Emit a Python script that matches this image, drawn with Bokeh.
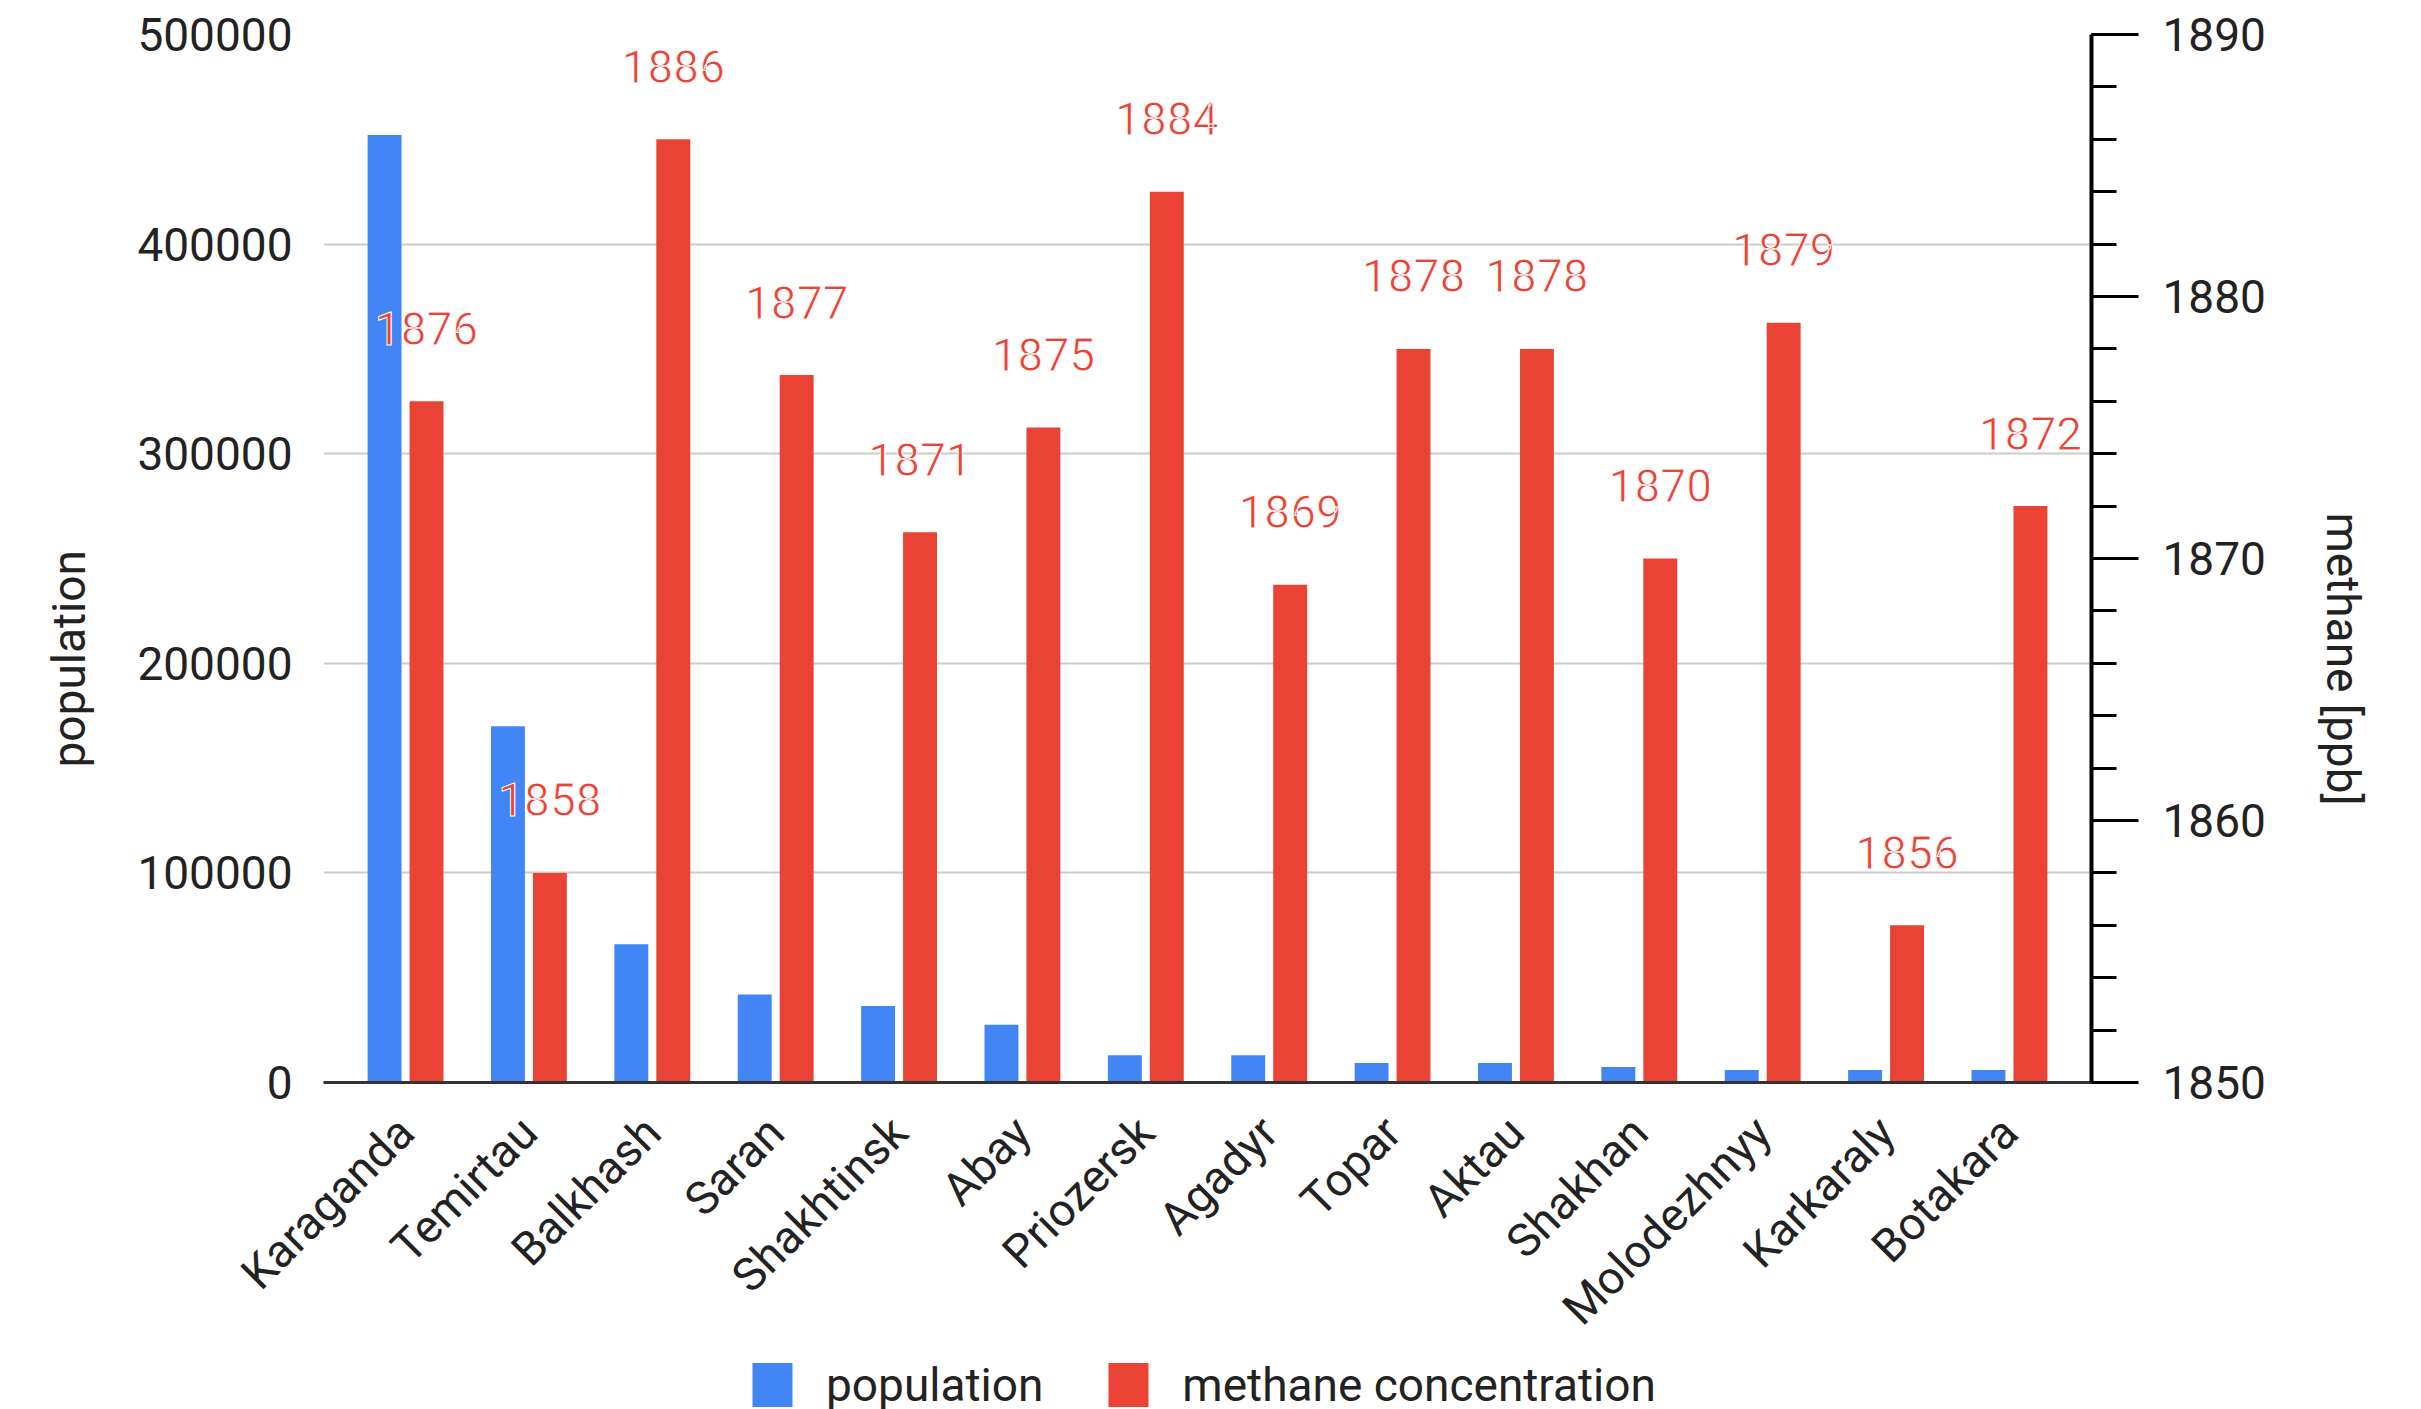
from math import pi

from bokeh.core.properties import value
from bokeh.embed import file_html
from bokeh.layouts import column
from bokeh.models import (BasicTickFormatter, ColumnDataSource, FactorRange,
                          FixedTicker, Legend, LegendItem, LinearAxis, Range1d,
                          SingleIntervalTicker, Title)
from bokeh.plotting import figure
from bokeh.resources import INLINE
from bokeh.transform import dodge

# Towns of Karaganda region: population and methane concentration
cities = ["Karaganda", "Temirtau", "Balkhash", "Saran", "Shakhtinsk", "Abay",
          "Priozersk", "Agadyr", "Topar", "Aktau", "Shakhan", "Molodezhnyy",
          "Karkaraly", "Botakara"]
population = [452000, 170000, 66000, 42000, 36500, 27500, 13000, 13000,
              9300, 9300, 7400, 6000, 6000, 6000]
methane = [1876, 1858, 1886, 1877, 1871, 1875, 1884, 1869, 1878, 1878,
           1870, 1879, 1856, 1872]
population_ticks = [0, 100000, 200000, 300000, 400000, 500000]
methane_range = (1850, 1890)
series_names = ["population", "methane concentration"]
axis_titles = ["population", "methane [ppb]"]

FONT = "Roboto"
TEXT = "#222222"
BLUE = "#4285f4"
RED = "#ea4335"
FS = "46px"
W = 2421
MAIN_H = 1360
LEGEND_H = 49
LEFT, RIGHT, TOP, BOTTOM = 321, 330, 34, 1082

source = ColumnDataSource(dict(
    city=cities,
    population=population,
    methane=methane,
    label=[str(v) for v in methane],
))

p = figure(
    x_range=FactorRange(factors=cities, range_padding=0.165,
                        range_padding_units="absolute"),
    y_range=Range1d(0, 500000),
    width=W, height=MAIN_H,
    output_backend="svg", toolbar_location=None,
    min_border_left=LEFT, min_border_right=RIGHT,
    min_border_top=TOP, min_border_bottom=MAIN_H - BOTTOM,
)
p.extra_y_ranges = {"methane": Range1d(*methane_range)}
p.outline_line_color = None
p.background_fill_color = "white"
p.border_fill_color = "white"

# population bars (left scale)
p.vbar(x=dodge("city", -0.17, range=p.x_range), top="population",
       bottom=0, width=0.275, source=source,
       fill_color=BLUE, line_color=None)

# methane bars (right scale)
p.vbar(x=dodge("city", 0.17, range=p.x_range), top="methane",
       bottom=methane_range[0], width=0.275, source=source,
       y_range_name="methane", fill_color=RED, line_color=None)

# value labels above the methane bars
p.text(x=dodge("city", 0.17, range=p.x_range), y="methane", text="label",
       source=source, y_range_name="methane", y_offset=-73,
       text_align="center", text_baseline="middle",
       text_font=value(FONT), text_font_size=FS, text_color=RED,
       text_outline_color="white")

# grid
p.xgrid.grid_line_color = None
p.ygrid.ticker = FixedTicker(ticks=population_ticks)
p.ygrid.grid_line_color = "#cccccc"
p.ygrid.grid_line_width = 2

# left axis
ly = p.yaxis[0]
ly.ticker = FixedTicker(ticks=population_ticks)
ly.formatter = BasicTickFormatter(use_scientific=False)
ly.axis_line_color = None
ly.major_tick_line_color = None
ly.minor_tick_line_color = None
ly.major_label_text_font = FONT
ly.major_label_text_font_size = FS
ly.major_label_text_color = TEXT
ly.major_label_standoff = 25

# category axis with baseline
xa = p.xaxis[0]
xa.axis_line_color = "#333333"
xa.axis_line_width = 3
xa.major_tick_line_color = None
xa.minor_tick_line_color = None
xa.major_tick_out = 0
xa.major_label_orientation = pi / 4
xa.major_label_text_font = FONT
xa.major_label_text_font_size = FS
xa.major_label_text_color = TEXT
xa.major_label_standoff = 42

# right axis for methane
ra = LinearAxis(y_range_name="methane",
                ticker=SingleIntervalTicker(interval=10, num_minor_ticks=5))
ra.axis_line_color = "black"
ra.axis_line_width = 4
ra.major_tick_line_color = "black"
ra.major_tick_line_width = 3
ra.major_tick_in = 0
ra.major_tick_out = 47
ra.minor_tick_line_color = "black"
ra.minor_tick_line_width = 3
ra.minor_tick_in = 0
ra.minor_tick_out = 25
ra.major_label_text_font = FONT
ra.major_label_text_font_size = FS
ra.major_label_text_color = TEXT
ra.major_label_standoff = 24
p.add_layout(ra, "right")

# axis titles, shifted below the middle of the frame
p.add_layout(Title(text=axis_titles[0], align="left", offset=315,
                   standoff=78, text_font=FONT, text_font_size=FS,
                   text_font_style="normal", text_color=TEXT), "left")
p.add_layout(Title(text=axis_titles[1], align="left", offset=478,
                   standoff=95, text_font=FONT, text_font_size=FS,
                   text_font_style="normal", text_color=TEXT), "right")

# legend strip under the chart
lg = figure(width=W, height=LEGEND_H, x_range=Range1d(0, 1),
            y_range=Range1d(0, 1), x_axis_type=None, y_axis_type=None,
            output_backend="svg", toolbar_location=None, min_border=0)
lg.xgrid.grid_line_color = None
lg.ygrid.grid_line_color = None
lg.outline_line_color = None
lg.background_fill_color = "white"
lg.border_fill_color = "white"
nothing = ColumnDataSource(dict(x=[float("nan")], top=[float("nan")]))
r_pop = lg.vbar(x="x", top="top", width=0.1, source=nothing,
                fill_color=BLUE, line_color=None)
r_ch4 = lg.vbar(x="x", top="top", width=0.1, source=nothing,
                fill_color=RED, line_color=None)

legend = Legend(items=[
    LegendItem(label=series_names[0], renderers=[r_pop]),
    LegendItem(label=series_names[1], renderers=[r_ch4]),
])
legend.orientation = "horizontal"
legend.location = (745 - LEFT, -3)
legend.glyph_width = 50
legend.glyph_height = 55
legend.label_text_font = FONT
legend.label_text_font_size = FS
legend.label_text_color = TEXT
legend.label_standoff = 29
legend.spacing = 60
legend.padding = 0
legend.margin = 0
legend.border_line_color = None
legend.background_fill_alpha = 0
lg.add_layout(legend, "center")

layout = column(p, lg, spacing=0)
open("out.html", "w").write(file_html(layout, INLINE))
